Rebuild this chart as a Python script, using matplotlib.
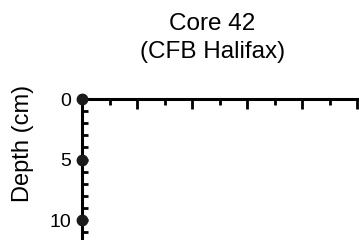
import matplotlib.pyplot as plt
from matplotlib.ticker import MultipleLocator

plt.rcParams['font.family'] = ['Liberation Sans', 'DejaVu Sans']

# sample depths plotted on the axis (cm), value is zero for all
depths = [0, 5, 10]
values = [0, 0, 0]

title_lines = ['Core 42', '(CFB Halifax)']

fig = plt.figure(figsize=(3.59, 2.40), dpi=100)
ax = fig.add_axes([82 / 359, 0.0, 275 / 359, 141 / 240])

ax.plot(values, depths, 'o', color='#1a1a1a', markersize=7.5, clip_on=False, zorder=5)

ax.set_xlim(0, 100)
ax.set_ylim(11.65, 0)

ax.spines['right'].set_visible(False)
ax.spines['bottom'].set_visible(False)
ax.spines['top'].set_linewidth(2.2)
ax.spines['left'].set_linewidth(2.2)

ax.xaxis.set_major_locator(MultipleLocator(20))
ax.xaxis.set_minor_locator(MultipleLocator(10))
ax.yaxis.set_major_locator(MultipleLocator(5))
ax.yaxis.set_minor_locator(MultipleLocator(1))

ax.tick_params(axis='x', which='both', top=True, bottom=False, labeltop=False,
               labelbottom=False, direction='in', width=2)
ax.tick_params(axis='x', which='major', length=7)
ax.tick_params(axis='x', which='minor', length=4)
ax.tick_params(axis='y', which='both', direction='in', width=2, labelsize=14, pad=8)
ax.tick_params(axis='y', which='major', length=4)
ax.tick_params(axis='y', which='minor', length=4)

fig.text(0.592, 0.902, title_lines[0], ha='center', va='center', fontsize=17.5)
fig.text(0.592, 0.783, title_lines[1], ha='center', va='center', fontsize=17.5)
fig.text(0.064, 0.404, 'Depth (cm)', ha='center', va='center', rotation=90, fontsize=17)

fig.savefig('out.png', dpi=100)
